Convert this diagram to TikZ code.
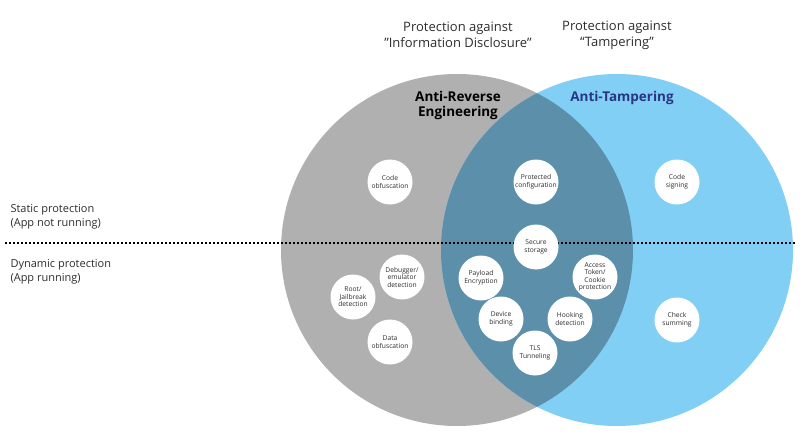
\documentclass[tikz,border=0pt]{standalone}
\usepackage{fontspec}
\setmainfont{Open Sans}
\usetikzlibrary{calc}
\definecolor{revgray}{RGB}{176,176,176}
\definecolor{tampblue}{RGB}{129,207,244}
\definecolor{lensblue}{RGB}{91,143,170}
\definecolor{tamptext}{RGB}{40,54,132}
\definecolor{txtgray}{RGB}{45,45,45}
\tikzset{
 technique/.style={circle, fill=white, minimum size=45pt, inner sep=0pt, align=center,
   font=\fontsize{6.7}{7.5}\selectfont, text=txtgray},
 heading/.style={align=center, font=\fontsize{13}{16}\selectfont, text=txtgray},
 setname/.style={align=center, font=\fontsize{13.5}{15.5}\selectfont\bfseries},
 phase/.style={anchor=west, align=left, font=\fontsize{11}{14.5}\selectfont, text=txtgray},
}

\begin{document}
\begin{tikzpicture} [x=1pt,y=-1pt]
\useasboundingbox (0,0) rectangle (800,441);
\coordinate (R) at (457,250);
\coordinate (T) at (617,250);
\fill[revgray] (R) circle[radius=176];
\fill[tampblue] (T) circle[radius=176];
\begin{scope}
 \clip (R) circle[radius=176];
 \fill[lensblue] (T) circle[radius=176];
\end{scope}
% static / dynamic divider
\coordinate (divL) at (5,243);
\coordinate (divR) at (795,243);
\draw[black, line width=1.5pt, dash pattern=on 1.5pt off 2.5pt] (divL)--(divR);
\node[phase] (static) at (7,217) {Static protection\\(App not running)};
\node[phase] (dynamic) at (7,272) {Dynamic protection\\(App running)};
\node[heading] (infodisc) at (458,35) {Protection against\\"Information Disclosure"};
\node[heading] (tampering) at (617,35) {Protection against\\“Tampering”};
\node[setname] (antirev) at (458,105.5) {Anti-Reverse\\Engineering};
\node[setname, text=tamptext] (antitamp) at (622,98) {Anti-Tampering};
\foreach \x/\y/\n/\t in {
 390/182/cobf/{Code\\obfuscation},
 536/182/pconf/{Protected\\configuration},
 677/182/csign/{Code\\signing},
 536/247/sstore/{Secure\\storage},
 402/277/debug/{Debugger/\\emulator\\detection},
 481/278/payload/{Payload\\Encryption},
 595/277/token/{Access\\Token/\\Cookie\\protection},
 353/297/root/{Root/\\Jailbreak\\detection},
 390/342/dobf/{Data\\obfuscation},
 501/319/device/{Device\\binding},
 570/319/hook/{Hooking\\detection},
 535/353/tls/{TLS\\Tunneling},
 677/320/check/{Check\\summing}} {
 \node[technique] (\n) at (\x,\y) {\t};
}
\end{tikzpicture}
\end{document}
